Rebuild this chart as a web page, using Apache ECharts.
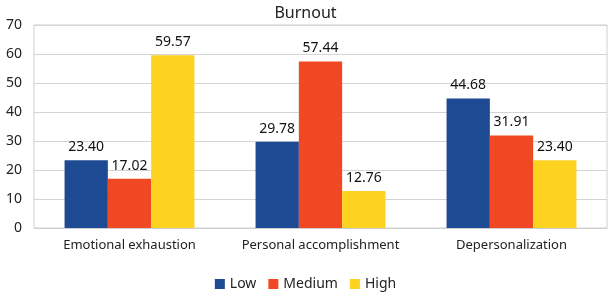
<!DOCTYPE html>
<html>
<head>
<meta charset="utf-8">
<script src="https://cdn.jsdelivr.net/npm/echarts@6/dist/echarts.min.js"></script>
<style>html,body{margin:0;padding:0;background:#fff}</style>
</head>
<body>
<div id="main" style="width:611px;height:300px;"></div>
<script type="text/javascript">
var categories = ['Emotional exhaustion', 'Personal accomplishment', 'Depersonalization'];
var lowValues = [23.40, 29.78, 44.68];
var mediumValues = [17.02, 57.44, 31.91];
var highValues = [59.57, 12.76, 23.40];

var myChart = echarts.init(document.getElementById('main'));
var font = 'Noto Sans, sans-serif';
function bar(name, data, color) {
    return {
        name: name,
        type: 'bar',
        data: data,
        barGap: 0,
        barCategoryGap: '32%',
        itemStyle: {color: color},
        label: {
            show: true,
            position: 'top',
            distance: 6,
            color: '#111',
            fontSize: 14,
            fontFamily: font,
            formatter: function (p) { return p.value.toFixed(2); }
        }
    };
}
var option = {
    animation: false,
    title: {
        text: 'Burnout',
        left: 'center',
        top: 0,
        textStyle: {fontSize: 16, fontWeight: 'normal', color: '#222', fontFamily: font}
    },
    legend: {
        bottom: 4,
        left: 'center',
        itemWidth: 10,
        itemHeight: 10,
        itemGap: 12,
        icon: 'rect',
        textStyle: {fontSize: 14, color: '#222', fontFamily: font},
        data: ['Low', 'Medium', 'High']
    },
    grid: {
        left: 34, right: 4, top: 25, bottom: 72,
        show: true, borderColor: '#cfcfcf', borderWidth: 1
    },
    xAxis: {
        type: 'category',
        data: categories,
        axisTick: {show: false},
        axisLine: {lineStyle: {color: '#cfcfcf'}},
        axisLabel: {interval: 0, fontSize: 13, color: '#222', fontFamily: font, margin: 11}
    },
    yAxis: {
        type: 'value',
        min: 0, max: 70, interval: 10,
        axisLine: {show: false},
        axisTick: {show: false},
        splitLine: {lineStyle: {color: '#d4d4d4'}},
        axisLabel: {fontSize: 14, color: '#222', fontFamily: font, margin: 12}
    },
    series: [
        bar('Low', lowValues, '#1d4a92'),
        bar('Medium', mediumValues, '#f04823'),
        bar('High', highValues, '#fdd220')
    ]
};
myChart.setOption(option);
</script>
</body>
</html>
